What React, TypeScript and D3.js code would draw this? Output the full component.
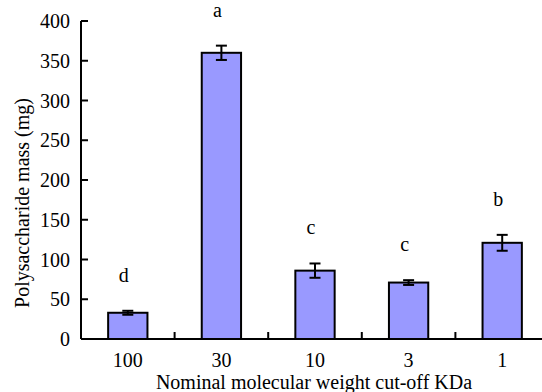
import React from "react";
import { scaleBand, scaleLinear } from "d3";

const categories = ["100", "30", "10", "3", "1"];
const means = [33, 360, 86, 71, 121];
const errors = [2.5, 9, 9, 3, 10];
const letters = ["d", "a", "c", "c", "b"];
const yTicks = [0, 50, 100, 150, 200, 250, 300, 350, 400];

const width = 542;
const height = 392;
const margin = { left: 81, top: 21, right: -7, bottom: 53 };
const serif = '"Liberation Serif", Tinos, FreeSerif, serif';
const txt = { fontFamily: serif, fontSize: "20px" };

const x = scaleBand()
  .domain(categories)
  .range([margin.left, width - margin.right])
  .padding(0);
const y = scaleLinear()
  .domain([0, 400])
  .range([height - margin.bottom, margin.top]);

export default function App() {
  const barW = x.bandwidth() * 0.42;
  const cx = (c: string) => (x(c) ?? 0) + x.bandwidth() / 2;
  const data = categories.map((c, i) => ({
    c,
    mean: means[i],
    err: errors[i],
    letter: letters[i],
  }));

  return (
    <svg
      width={width}
      height={height}
      style={{ position: "absolute", left: 0, top: 0, fontFamily: serif }}
    >
      <rect x={0} y={0} width={width} height={height} fill="#fff" />

      {/* bars */}
      {data.map((d) => (
        <rect
          key={"b" + d.c}
          x={cx(d.c) - barW / 2}
          y={y(d.mean)}
          width={barW}
          height={y(0) - y(d.mean)}
          fill="#9999FF"
          stroke="#000"
          strokeWidth={2}
        />
      ))}

      {/* error bars */}
      <g stroke="#000" strokeWidth={2}>
        {data.map((d) => (
          <g key={"e" + d.c}>
            <line x1={cx(d.c)} x2={cx(d.c)} y1={y(d.mean + d.err)} y2={y(d.mean - d.err)} />
            <line x1={cx(d.c) - 5.5} x2={cx(d.c) + 5.5} y1={y(d.mean + d.err)} y2={y(d.mean + d.err)} />
            <line x1={cx(d.c) - 5.5} x2={cx(d.c) + 5.5} y1={y(d.mean - d.err)} y2={y(d.mean - d.err)} />
          </g>
        ))}
      </g>

      {/* significance letters */}
      {data.map((d) => (
        <text
          key={"l" + d.c}
          x={cx(d.c) - 4}
          y={y(d.mean + d.err) - 29}
          textAnchor="middle"
          style={txt}
        >
          {d.letter}
        </text>
      ))}

      {/* y axis */}
      <line x1={margin.left} x2={margin.left} y1={y(400)} y2={y(0)} stroke="#000" strokeWidth={2} />
      {yTicks.map((t) => (
        <line
          key={"yt" + t}
          x1={margin.left}
          x2={margin.left + 7}
          y1={y(t)}
          y2={y(t)}
          stroke="#000"
          strokeWidth={2}
        />
      ))}
      {yTicks.map((t) => (
        <text key={"yl" + t} x={margin.left - 11} y={y(t) + 7} textAnchor="end" style={txt}>
          {t}
        </text>
      ))}

      {/* x axis */}
      <line x1={margin.left} x2={width - margin.right} y1={y(0)} y2={y(0)} stroke="#000" strokeWidth={2} />
      {categories.slice(1).map((c) => (
        <line
          key={"xt" + c}
          x1={x(c)}
          x2={x(c)}
          y1={y(0)}
          y2={y(0) - 7}
          stroke="#000"
          strokeWidth={2}
        />
      ))}
      {categories.map((c) => (
        <text key={"xl" + c} x={cx(c)} y={y(0) + 28} textAnchor="middle" style={txt}>
          {c}
        </text>
      ))}

      {/* axis titles */}
      <text x={314} y={389} textAnchor="middle" style={txt}>
        Nominal molecular weight cut-off KDa
      </text>
      <text transform="translate(29,203) rotate(-90)" textAnchor="middle" style={txt}>
        Polysaccharide mass (mg)
      </text>
    </svg>
  );
}
